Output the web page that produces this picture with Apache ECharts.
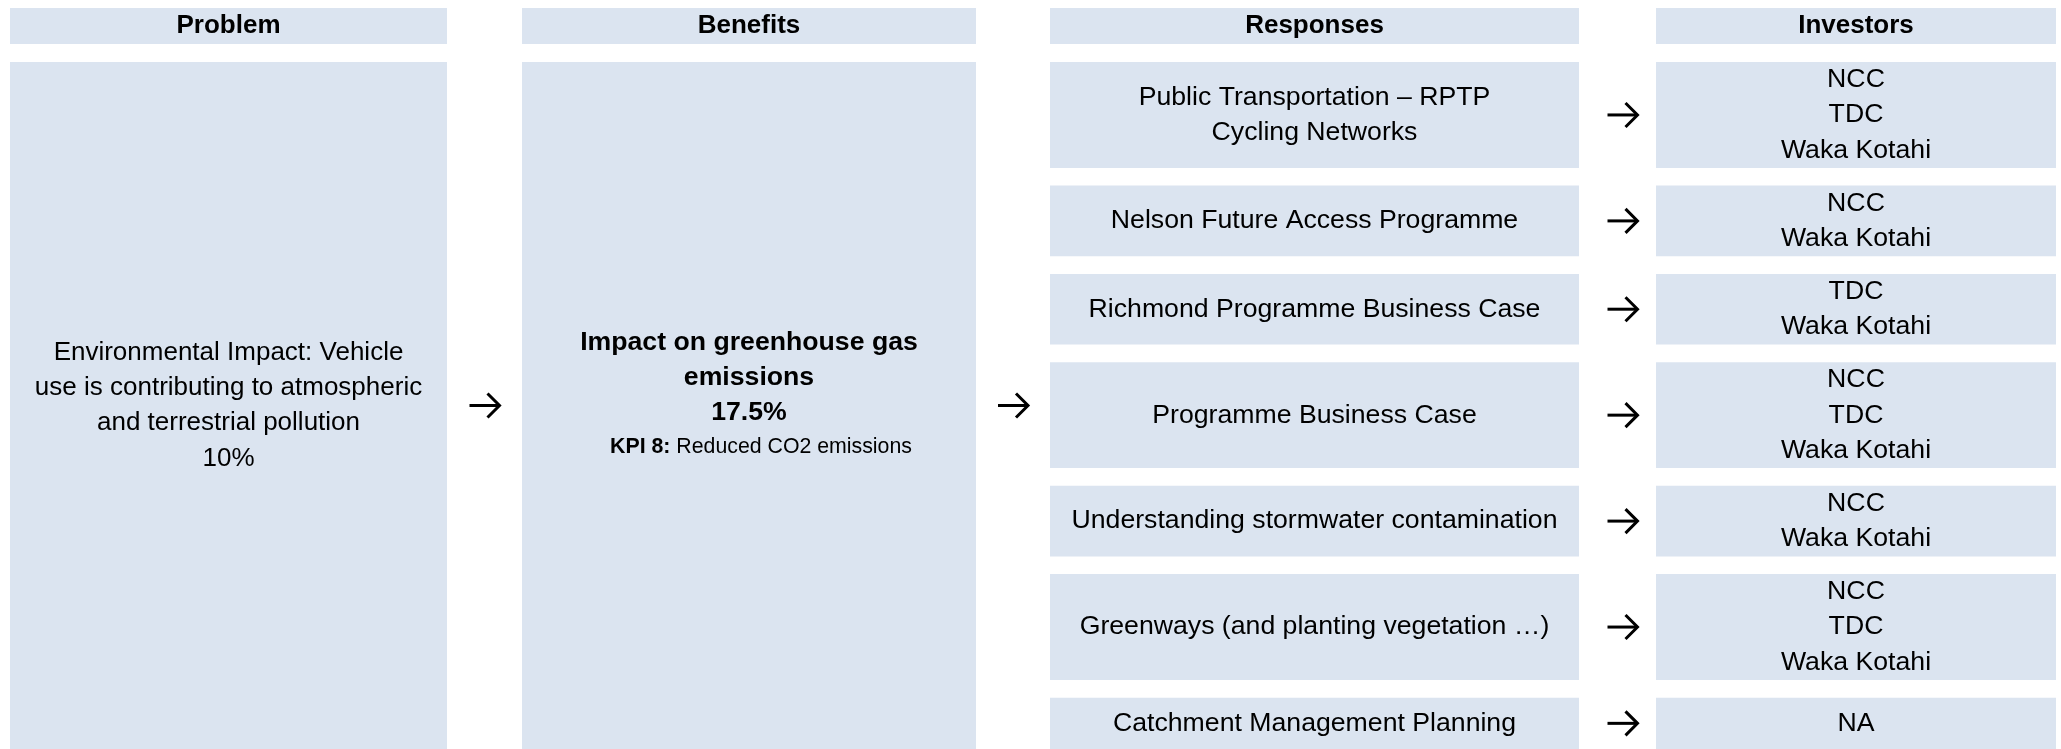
<!DOCTYPE html>
<html>
<head>
<meta charset="utf-8">
<title>Problem – Benefits – Responses – Investors</title>
<script src="https://cdn.jsdelivr.net/npm/echarts@6/dist/echarts.min.js"></script>
<style>
  html, body { margin: 0; padding: 0; background: #fff; }
  #chart { width: 2061px; height: 749px; }
</style>
</head>
<body>
<div id="chart"></div>
<script>
// ---- data ----
const columns = ['Problem', 'Benefits', 'Responses', 'Investors']
const problemLines = [
  'Environmental Impact: Vehicle',
  'use is contributing to atmospheric',
  'and terrestrial pollution',
  '10%'
]
const benefitLines = ['Impact on greenhouse gas', 'emissions', '17.5%']
const kpiLabel = 'KPI 8:'
const kpiText = 'Reduced CO2 emissions'
const responses = [
  ['Public Transportation – RPTP', 'Cycling Networks'],
  ['Nelson Future Access Programme'],
  ['Richmond Programme Business Case'],
  ['Programme Business Case'],
  ['Understanding stormwater contamination'],
  ['Greenways (and planting vegetation …)'],
  ['Catchment Management Planning']
]
const investors = [
  ['NCC', 'TDC', 'Waka Kotahi'],
  ['NCC', 'Waka Kotahi'],
  ['TDC', 'Waka Kotahi'],
  ['NCC', 'TDC', 'Waka Kotahi'],
  ['NCC', 'Waka Kotahi'],
  ['NCC', 'TDC', 'Waka Kotahi'],
  ['NA']
]

// ---- layout ----
const W = 2061, H = 749
const colX = [[10, 447], [522, 976], [1050, 1579], [1656, 2056]]
const headTop = 8, headBottom = 44
const bodyTop = 62
const lineH = 35.3
const rowGap = 17.7
const FILL = '#dbe4f0'
const FONT = '"Liberation Sans", Arial, Helvetica, sans-serif'
const FS = 26      // headers and problem text
const FS_ROW = 26.67 // benefits, responses, investors

// rows sized by the number of investor lines (at least two lines)
const rows = []
let y = bodyTop
investors.forEach((inv, i) => {
  const h = Math.max(2, inv.length, responses[i].length) * lineH
  rows.push([y, y + h])
  y += h + rowGap
})
const bodyBottom = rows[rows.length - 1][1]
// visible middle of a box (the picture is cut at the bottom edge)
const visMid = r => (r[0] + Math.min(r[1], H)) / 2

// cells: [x0, x1, y0, y1] plus text info kept aside
const cells = []
columns.forEach((c, i) => {
  cells.push({ box: [colX[i][0], colX[i][1], headTop, headBottom], text: c, bold: true, fs: FS })
})
cells.push({ box: [colX[0][0], colX[0][1], bodyTop, bodyBottom], text: problemLines.join('\n'), fs: FS })
cells.push({
  box: [colX[1][0], colX[1][1], bodyTop, bodyBottom],
  rich: benefitLines.map(s => '{b|' + s + '}').join('\n') +
    '\n{p|}{k|' + kpiLabel + '}{s| ' + kpiText + '}',
  dy: -11
})
rows.forEach((r, i) => {
  cells.push({ box: [colX[2][0], colX[2][1], r[0], r[1]], text: responses[i].join('\n'), fs: FS_ROW })
  cells.push({ box: [colX[3][0], colX[3][1], r[0], r[1]], text: investors[i].join('\n'), fs: FS_ROW })
})

// arrows between columns
const bodyMid = visMid([bodyTop, bodyBottom])
const arrows = [
  [(colX[0][1] + colX[1][0]) / 2, bodyMid],
  [(colX[1][1] + colX[2][0]) / 2, bodyMid]
]
rows.forEach(r => arrows.push([(colX[2][1] + colX[3][0]) / 2 + 5, visMid(r)]))

const richStyles = {
  b: { fontFamily: FONT, fontSize: FS_ROW, fontWeight: 'bold', lineHeight: 35, fill: '#000' },
  p: { width: 24, lineHeight: 33 },
  k: { fontFamily: FONT, fontSize: 21.3, fontWeight: 'bold', lineHeight: 33, fill: '#000' },
  s: { fontFamily: FONT, fontSize: 21.3, lineHeight: 33, fill: '#000' }
}

const renderCell = (params, api) => {
  const cell = cells[params.dataIndex]
  const p0 = api.coord([api.value(0), api.value(2)])
  const p1 = api.coord([api.value(1), Math.min(api.value(3), H)])
  const x = Math.min(p0[0], p1[0]), yy = Math.min(p0[1], p1[1])
  const w = Math.abs(p1[0] - p0[0]), h = Math.abs(p1[1] - p0[1])
  const textStyle = cell.rich
    ? { text: cell.rich, rich: richStyles }
    : {
        text: cell.text,
        fontFamily: FONT,
        fontSize: cell.fs,
        fontWeight: cell.bold ? 'bold' : 'normal',
        lineHeight: lineH,
        fill: '#000'
      }
  return {
    type: 'group',
    children: [
      { type: 'rect', shape: { x: x, y: yy, width: w, height: h }, style: { fill: FILL } },
      {
        type: 'text',
        x: x + w / 2,
        y: yy + h / 2 + (cell.dy || 0),
        style: Object.assign({ align: 'center', verticalAlign: 'middle' }, textStyle)
      }
    ]
  }
}

const renderArrow = (params, api) => {
  const c = api.coord([api.value(0), api.value(1)])
  const hw = 15, hh = 12
  return {
    type: 'group',
    children: [
      {
        type: 'line',
        shape: { x1: c[0] - hw, y1: c[1], x2: c[0] + hw - 1, y2: c[1] },
        style: { stroke: '#000', lineWidth: 3 }
      },
      {
        type: 'polyline',
        shape: { points: [[c[0] + hw - 12, c[1] - hh], [c[0] + hw, c[1]], [c[0] + hw - 12, c[1] + hh]] },
        style: { stroke: '#000', lineWidth: 3, fill: null }
      }
    ]
  }
}

const chart = echarts.init(document.getElementById('chart'), null, { renderer: 'canvas' })
chart.setOption({
  animation: false,
  backgroundColor: '#fff',
  grid: { left: 0, right: 0, top: 0, bottom: 0 },
  xAxis: { type: 'value', min: 0, max: W, show: false },
  yAxis: { type: 'value', min: 0, max: H, inverse: true, show: false },
  series: [
    {
      type: 'custom',
      clip: true,
      renderItem: renderCell,
      encode: { x: [0, 1], y: [2, 3] },
      data: cells.map(c => c.box)
    },
    {
      type: 'custom',
      renderItem: renderArrow,
      data: arrows
    }
  ]
})
window.addEventListener('resize', () => chart.resize())
</script>
</body>
</html>
